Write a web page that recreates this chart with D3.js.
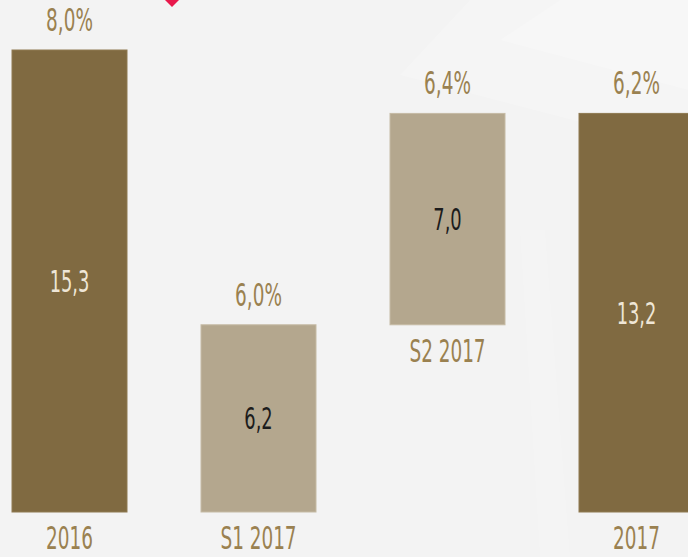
<!DOCTYPE html>
<html>
<head>
<meta charset="UTF-8">
<script src="https://d3js.org/d3.v7.min.js"></script>
<style>
  body { margin:0; background:#f3f3f3; }
  text { font-family:"Liberation Sans Narrow","DejaVu Sans Condensed",sans-serif; }
</style>
</head>
<body>
<div id="container"></div>
<script>
// données
var categories = ["2016", "S1 2017", "S2 2017", "2017"];
var values = [15.3, 6.2, 7.0, 13.2];
var kinds = ["total", "step", "step", "total"];   // total = depuis 0, step = cumul
var growth = ["8,0%", "6,0%", "6,4%", "6,2%"];

var width = 688, height = 557;
var darkFill = "#806a41", lightFill = "#b4a78e", gold = "#9a8150";
var sx = 0.64; // police condensée

var fr = d3.formatLocale({decimal: ",", thousands: " ", grouping: [3], currency: ["", ""]});
var fmt = fr.format(".1f");

// bases du waterfall
var run = 0;
var bars = categories.map(function (c, i) {
    var b;
    if (kinds[i] == "total") { b = 0; run = values[i]; }
    else { b = (i == 1) ? 0 : run; run = b + values[i]; }
    return {cat: c, v: values[i], base: b, kind: kinds[i], g: growth[i]};
});

var svg = d3.select("#container").append("svg")
    .attr("width", width).attr("height", height);

// fond avec rayons clairs (très discrets)
svg.append("rect").attr("width", width).attr("height", height).attr("fill", "#f3f3f3");
svg.append("polygon").attr("points", "470,0 688,0 688,150 400,75").attr("fill", "#fff").attr("opacity", 0.18);
svg.append("polygon").attr("points", "560,0 688,0 688,90 500,40").attr("fill", "#fff").attr("opacity", 0.2);
svg.append("polygon").attr("points", "520,230 545,230 570,557 540,557").attr("fill", "#fff").attr("opacity", 0.12);
svg.append("polygon").attr("points", "160,-12 172,0 184,-12 172,-24").attr("fill", "#e8184b")
    .attr("transform", "translate(0,7)");

var x = d3.scaleBand().domain(categories).range([12, 694]).paddingInner(74 / 189).paddingOuter(0);
var y = d3.scaleLinear().domain([0, 15.3]).range([512, 50]);

var g = svg.selectAll("g.bar").data(bars).enter().append("g").attr("class", "bar");

g.append("rect")
    .attr("x", function (d) { return x(d.cat); })
    .attr("y", function (d) { return y(d.base + d.v); })
    .attr("width", x.bandwidth())
    .attr("height", function (d) { return y(d.base) - y(d.base + d.v); })
    .attr("fill", function (d) { return d.kind == "total" ? darkFill : lightFill; })
    .attr("stroke", function (d) { return d.kind == "total" ? "#8f7a52" : "#c6bba5"; })
    .attr("stroke-width", 1);

function label(sel, fx, fy, txt, col, size) {
    sel.append("text")
        .attr("transform", function (d) { return "translate(" + fx(d) + "," + fy(d) + ") scale(" + sx + ",1)"; })
        .attr("text-anchor", "middle")
        .attr("font-size", size)
        .attr("fill", col)
        .text(txt);
}

// croissance au-dessus
label(g, function (d) { return x(d.cat) + x.bandwidth() / 2; },
    function (d) { return y(d.base + d.v) - 19; },
    function (d) { return d.g; }, gold, 32);

// valeur dans la barre
label(g, function (d) { return x(d.cat) + x.bandwidth() / 2; },
    function (d) { return (y(d.base) + y(d.base + d.v)) / 2 + 11; },
    function (d) { return fmt(d.v); },
    function (d) { return d.kind == "total" ? "#efe6d6" : "#1c1c1c"; }, 31);

// catégories sous la barre
label(g, function (d) { return x(d.cat) + x.bandwidth() / 2; },
    function (d) { return y(d.base) + 37; },
    function (d) { return d.cat; }, gold, 32);
</script>
</body>
</html>
